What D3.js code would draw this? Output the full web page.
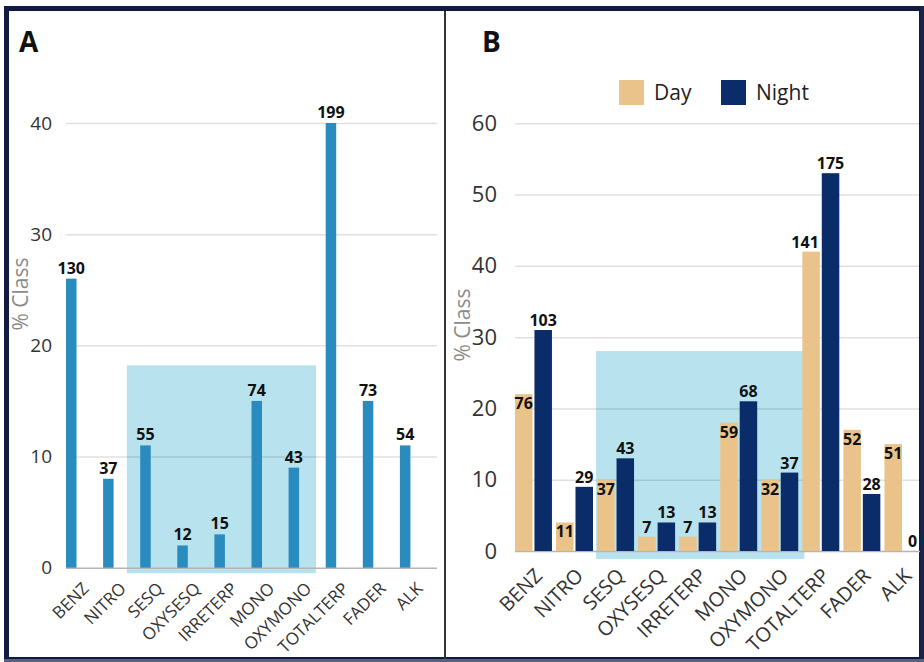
<!DOCTYPE html>
<html>
<head>
<meta charset="utf-8">
<script src="https://cdn.jsdelivr.net/npm/d3@7/dist/d3.min.js"></script>
<style>
  html, body { margin: 0; padding: 0; background: #ffffff; }
  svg { display: block; font-family: "Open Sans", "Noto Sans", sans-serif; }
</style>
</head>
<body>
<svg id="chart" width="924" height="662"></svg>
<script>
// ---------- data ----------
const categories = ["BENZ", "NITRO", "SESQ", "OXYSESQ", "IRRETERP", "MONO", "OXYMONO", "TOTALTERP", "FADER", "ALK"];
const panelAValues = [26, 8, 11, 2, 3, 15, 9, 40, 15, 11];
const panelACounts = [130, 37, 55, 12, 15, 74, 43, 199, 73, 54];
const dayValues = [22, 4, 10, 2, 2, 18, 10, 42, 17, 15];
const nightValues = [31, 9, 13, 4, 4, 21, 11, 53, 8, 0];
const dayCounts = [76, 11, 37, 7, 7, 59, 32, 141, 52, 51];
const nightCounts = [103, 29, 43, 13, 13, 68, 37, 175, 28, 0];
const seriesNames = ["Day", "Night"];
const ticksA = [0, 10, 20, 30, 40];
const ticksB = [0, 10, 20, 30, 40, 50, 60];
const highlightRange = ["SESQ", "OXYMONO"];
const yTitle = "% Class";

// ---------- styles ----------
const colA = "#2a8bbf";
const colDay = "#e9c389";
const colNight = "#0a2d6a";
const colHighlight = "#b8e2ee";
const gridCol = "rgba(0,0,0,0.12)";
const baseCol = "#b5b5b5";

const svg = d3.select("#chart");

// frame
svg.append("rect").attr("x", 6.5).attr("y", 8.5).attr("width", 915).attr("height", 651)
  .attr("fill", "#fff").attr("stroke", "#111a40").attr("stroke-width", 5);
svg.append("rect").attr("x", 0).attr("y", 0).attr("width", 924).attr("height", 6).attr("fill", "#fff");
svg.append("line").attr("x1", 922).attr("x2", 922).attr("y1", 6).attr("y2", 662).attr("stroke", "#1b2550").attr("stroke-width", 3);
svg.append("line").attr("x1", 4).attr("x2", 924).attr("y1", 660.5).attr("y2", 660.5).attr("stroke", "#56607f").attr("stroke-width", 3);
svg.append("line").attr("x1", 445).attr("x2", 445).attr("y1", 11).attr("y2", 659).attr("stroke", "#333").attr("stroke-width", 2);

// ================= PANEL A =================
const xA = d3.scaleBand().domain(categories).range([66, 437]).padding(0);
const yA = d3.scaleLinear().domain([0, 40]).range([567.7, 123]);
const barWA = 10.5;
const gA = svg.append("g");

gA.append("rect")
  .attr("x", xA(highlightRange[0]) - 0.36 * xA.step())
  .attr("y", yA(18.2))
  .attr("width", (xA(highlightRange[1]) + 0.74 * xA.step()) - (xA(highlightRange[0]) - 0.36 * xA.step()))
  .attr("height", yA(0) + 5.6 - yA(18.2))
  .attr("fill", colHighlight);

const axA = gA.append("g").attr("transform", "translate(66,0)")
  .call(d3.axisLeft(yA).tickValues(ticksA).tickSize(-371).tickPadding(14).tickFormat(d3.format("d")));
axA.select(".domain").remove();
axA.selectAll(".tick line").attr("stroke", d => d === 0 ? baseCol : gridCol).attr("stroke-width", 1.5);
axA.selectAll(".tick text").attr("font-size", 19).attr("fill", "#333").attr("font-family", "Open Sans, sans-serif");

const dataA = categories.map((c, i) => ({ c, v: panelAValues[i], n: panelACounts[i] }));
gA.selectAll("rect.bar").data(dataA).join("rect").attr("class", "bar")
  .attr("x", d => xA(d.c)).attr("width", barWA)
  .attr("y", d => yA(d.v)).attr("height", d => yA(0) - yA(d.v))
  .attr("fill", colA);
gA.selectAll("text.lbl").data(dataA).join("text").attr("class", "lbl")
  .attr("x", d => xA(d.c) + barWA / 2).attr("y", d => yA(d.v) - 5)
  .attr("text-anchor", "middle").attr("font-size", 16).attr("font-weight", 700).attr("fill", "#111")
  .text(d => d.n);

gA.selectAll("text.xl").data(categories).join("text").attr("class", "xl")
  .attr("transform", d => `translate(${xA(d) + 24},${yA(0) + 22}) rotate(-45)`)
  .attr("text-anchor", "end").attr("font-size", 17).attr("fill", "#333")
  .text(d => d);

gA.append("text").attr("transform", "translate(28,294) rotate(-90)")
  .attr("text-anchor", "middle").attr("font-size", 21).attr("fill", "#8a8a8a").text(yTitle);

gA.append("text").attr("x", 19).attr("y", 52).attr("font-size", 28).attr("font-weight", 700).attr("fill", "#111").text("A");

// ================= PANEL B =================
const xB = d3.scaleBand().domain(categories).range([515, 925.5]).padding(0);
const xB1 = d3.scaleBand().domain(seriesNames).range([0, xB.bandwidth() * 0.9]).paddingInner(0.1);
const yB = d3.scaleLinear().domain([0, 60]).range([551, 123.3]);
const color = d3.scaleOrdinal().domain(seriesNames).range([colDay, colNight]);
const gB = svg.append("g");

gB.append("rect")
  .attr("x", xB(highlightRange[0]) - 1)
  .attr("y", yB(28.05))
  .attr("width", xB(highlightRange[1]) + xB.step() + 2 - (xB(highlightRange[0]) - 1))
  .attr("height", yB(0) + 8 - yB(28.05))
  .attr("fill", colHighlight);

const axB = gB.append("g").attr("transform", "translate(515,0)")
  .call(d3.axisLeft(yB).tickValues(ticksB).tickSize(-405).tickPadding(18).tickFormat(d3.format("d")));
axB.select(".domain").remove();
axB.selectAll(".tick line").attr("stroke", d => d === 0 ? baseCol : gridCol).attr("stroke-width", 1.5);
axB.selectAll(".tick text").attr("font-size", 22).attr("fill", "#333").attr("font-family", "Open Sans, sans-serif");

const dataB = [];
categories.forEach((c, i) => {
  dataB.push({ c, s: "Day", v: dayValues[i], n: dayCounts[i] });
  dataB.push({ c, s: "Night", v: nightValues[i], n: nightCounts[i] });
});

gB.selectAll("rect.bar").data(dataB).join("rect").attr("class", "bar")
  .attr("x", d => xB(d.c) + xB1(d.s)).attr("width", xB1.bandwidth())
  .attr("y", d => yB(d.v)).attr("height", d => yB(0) - yB(d.v))
  .attr("fill", d => color(d.s));

function insideLabel(d) { return d.s === "Day" && d.v >= 4 && d.v < 40; }
gB.selectAll("text.lbl").data(dataB).join("text").attr("class", "lbl")
  .attr("x", d => xB(d.c) + xB1(d.s) + xB1.bandwidth() / 2 - (d.s === "Day" && !insideLabel(d) && d.v >= 40 ? 6 : 0))
  .attr("y", d => insideLabel(d) ? yB(d.v) + 15 : yB(d.v) - 4)
  .attr("text-anchor", "middle").attr("font-size", 16).attr("font-weight", 700).attr("fill", "#111")
  .text(d => d.n);

gB.selectAll("text.xl").data(categories).join("text").attr("class", "xl")
  .attr("transform", d => `translate(${xB(d) + 28.5},${yB(0) + 26}) rotate(-45)`)
  .attr("text-anchor", "end").attr("font-size", 20).attr("fill", "#333")
  .text(d => d);

gB.append("text").attr("transform", "translate(470,325) rotate(-90)")
  .attr("text-anchor", "middle").attr("font-size", 21).attr("fill", "#8a8a8a").text(yTitle);

gB.append("text").attr("x", 482).attr("y", 52).attr("font-size", 28).attr("font-weight", 700).attr("fill", "#111").text("B");

const legX = [619, 721];
const leg = gB.selectAll("g.leg").data(seriesNames).join("g").attr("class", "leg")
  .attr("transform", (d, i) => `translate(${legX[i]},80)`);
leg.append("rect").attr("width", 25).attr("height", 25).attr("fill", d => color(d));
leg.append("text").attr("x", 35).attr("y", 19.5).attr("font-size", 21).attr("fill", "#222").text(d => d);
</script>
</body>
</html>
